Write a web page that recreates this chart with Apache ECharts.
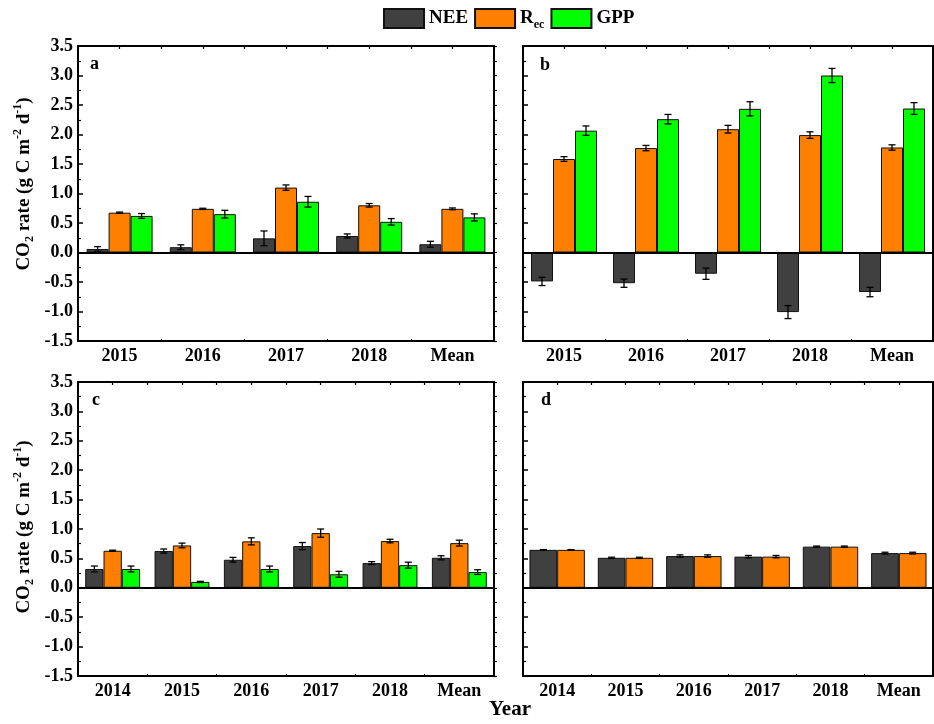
<!DOCTYPE html>
<html>
<head>
<meta charset="utf-8">
<script src="https://cdn.jsdelivr.net/npm/echarts@6/dist/echarts.min.js"></script>
<style>
  html, body { margin: 0; padding: 0; background: #fff; }
  #chart { width: 934px; height: 724px; }
</style>
</head>
<body>
<div id="chart"></div>
<script>
// ---- data -----------------------------------------------------------
const yearsA = ['2015', '2016', '2017', '2018', 'Mean'];
const neeA    = [0.06, 0.09, 0.24, 0.28, 0.14];
const neeErrA = [0.04, 0.04, 0.125, 0.035, 0.05];
const recA    = [0.675, 0.74, 1.10, 0.80, 0.74];
const recErrA = [0.01, 0.01, 0.045, 0.03, 0.015];
const gppA    = [0.62, 0.65, 0.86, 0.52, 0.595];
const gppErrA = [0.04, 0.065, 0.09, 0.055, 0.06];

const yearsB = ['2015', '2016', '2017', '2018', 'Mean'];
const neeB    = [-0.49, -0.52, -0.36, -1.01, -0.67];
const neeErrB = [0.07, 0.07, 0.095, 0.11, 0.08];
const recB    = [1.585, 1.77, 2.09, 1.99, 1.78];
const recErrB = [0.04, 0.045, 0.065, 0.055, 0.045];
const gppB    = [2.065, 2.26, 2.435, 3.0, 2.44];
const gppErrB = [0.08, 0.08, 0.12, 0.12, 0.10];

const yearsC = ['2014', '2015', '2016', '2017', '2018', 'Mean'];
const neeC    = [0.32, 0.625, 0.477, 0.71, 0.42, 0.51];
const neeErrC = [0.05, 0.035, 0.04, 0.06, 0.025, 0.035];
const recC    = [0.63, 0.72, 0.79, 0.93, 0.795, 0.76];
const recErrC = [0.01, 0.04, 0.06, 0.07, 0.03, 0.05];
const gppC    = [0.32, 0.10, 0.32, 0.23, 0.385, 0.267];
const gppErrC = [0.05, 0.01, 0.05, 0.05, 0.05, 0.04];

const yearsD = ['2014', '2015', '2016', '2017', '2018', 'Mean'];
const neeD    = [0.645, 0.51, 0.54, 0.53, 0.70, 0.59];
const neeErrD = [0.005, 0.01, 0.02, 0.02, 0.01, 0.015];
const recD    = [0.645, 0.51, 0.54, 0.53, 0.70, 0.59];
const recErrD = [0.005, 0.01, 0.02, 0.02, 0.01, 0.015];

const yTicks = { min: -1.5, max: 3.5, step: 0.5 };

// ---- style ----------------------------------------------------------
const FONT = '"Liberation Serif", "Times New Roman", serif';
const COLORS = { NEE: '#404040', Rec: '#ff8000', GPP: '#00ff00' };

const panels = [
  { letter: 'a', years: yearsA, grid: { left: 78, top: 46, width: 416, height: 295 }, yLabels: true, barW: 22,
    series: [['NEE', neeA, neeErrA], ['Rec', recA, recErrA], ['GPP', gppA, gppErrA]],
    letterPos: [90, 55], titleY: 184 },
  { letter: 'b', years: yearsB, grid: { left: 523, top: 46, width: 410, height: 295 }, yLabels: false, barW: 22,
    series: [['NEE', neeB, neeErrB], ['Rec', recB, recErrB], ['GPP', gppB, gppErrB]],
    letterPos: [540, 56] },
  { letter: 'c', years: yearsC, grid: { left: 78, top: 382, width: 416, height: 294 }, yLabels: true, barW: 18.3,
    series: [['NEE', neeC, neeErrC], ['Rec', recC, recErrC], ['GPP', gppC, gppErrC]],
    letterPos: [92, 391], titleY: 527 },
  { letter: 'd', years: yearsD, grid: { left: 523, top: 382, width: 410, height: 294 }, yLabels: false, barW: 27.7,
    series: [['NEE', neeD, neeErrD], ['Rec', recD, recErrD]],
    letterPos: [541, 391] }
];

const grids = [], xAxes = [], yAxes = [], seriesList = [], graphics = [];
const black = '#000';

function errorBarRenderer(idx, count, barW) {
  return function (params, api) {
    const c = api.value(0);
    const lo = api.coord([c, api.value(1)]);
    const hi = api.coord([c, api.value(2)]);
    const cx = lo[0] + (idx - (count - 1) / 2) * barW;
    const cap = 3.5;
    const st = { stroke: black, lineWidth: 1.3 };
    return {
      type: 'group',
      children: [
        { type: 'line', shape: { x1: cx, y1: lo[1], x2: cx, y2: hi[1] }, style: st },
        { type: 'line', shape: { x1: cx - cap, y1: lo[1], x2: cx + cap, y2: lo[1] }, style: st },
        { type: 'line', shape: { x1: cx - cap, y1: hi[1], x2: cx + cap, y2: hi[1] }, style: st }
      ]
    };
  };
}

panels.forEach((p, pi) => {
  grids.push(Object.assign({ containLabel: false }, p.grid));
  const n = p.years.length;
  // category axis carrying the bars
  xAxes.push({
    type: 'category', gridIndex: pi, position: 'bottom', data: p.years,
    axisLine: { onZero: false, lineStyle: { color: black, width: 2 } },
    axisTick: { inside: true, alignWithLabel: true, length: 5, lineStyle: { color: black, width: 1.5 } },
    axisLabel: { color: black, fontFamily: FONT, fontWeight: 'bold', fontSize: 18, margin: 6 },
    splitLine: { show: false }
  });
  // top frame with half-category ticks
  xAxes.push({
    type: 'value', gridIndex: pi, position: 'top', min: 0, max: n, interval: 0.5,
    axisLine: { show: true, onZero: false, lineStyle: { color: black, width: 2 } },
    axisTick: { show: true, inside: true, length: 3, lineStyle: { color: black, width: 1.2 } },
    axisLabel: { show: false }, splitLine: { show: false }
  });
  // small ticks at category boundaries along the bottom
  xAxes.push({
    type: 'value', gridIndex: pi, position: 'bottom', min: 0, max: n, interval: 1,
    axisLine: { show: false, onZero: false },
    axisTick: { show: true, inside: true, length: 2, lineStyle: { color: black, width: 1 } },
    axisLabel: { show: false }, splitLine: { show: false }
  });
  yAxes.push({
    type: 'value', gridIndex: pi, position: 'left',
    min: yTicks.min, max: yTicks.max, interval: yTicks.step,
    axisLine: { show: true, onZero: false, lineStyle: { color: black, width: 2 } },
    axisTick: { show: true, inside: true, length: 5, lineStyle: { color: black, width: 1.5 } },
    minorTick: { show: true, splitNumber: 2, length: 3, lineStyle: { color: black, width: 1.2 } },
    axisLabel: { show: p.yLabels, color: black, fontFamily: FONT, fontWeight: 'bold', fontSize: 18, margin: 5,
                 formatter: v => v.toFixed(1) },
    splitLine: { show: false }
  });
  yAxes.push({
    type: 'value', gridIndex: pi, position: 'right',
    min: yTicks.min, max: yTicks.max, interval: yTicks.step / 2,
    axisLine: { show: true, onZero: false, lineStyle: { color: black, width: 2 } },
    axisTick: { show: true, inside: false, length: 3, lineStyle: { color: black, width: 1.2 } },
    axisLabel: { show: false }, splitLine: { show: false }
  });

  const count = p.series.length;
  p.series.forEach(([name, vals, errs], si) => {
    const bar = {
      type: 'bar', name, xAxisIndex: pi * 3, yAxisIndex: pi * 2,
      data: vals, barWidth: p.barW, barGap: '0%',
      itemStyle: { color: COLORS[name], borderColor: '#111', borderWidth: 1 },
      z: 2
    };
    if (si === 0) {
      bar.markLine = {
        silent: true, symbol: 'none', label: { show: false },
        lineStyle: { color: black, width: 2.2, type: 'solid' },
        data: [{ yAxis: 0 }], z: 5
      };
    }
    seriesList.push(bar);
    seriesList.push({
      type: 'custom', name: name + ' error', xAxisIndex: pi * 3, yAxisIndex: pi * 2,
      data: vals.map((v, i) => [i, v - errs[i], v + errs[i]]),
      encode: { x: 0, y: [1, 2] },
      renderItem: errorBarRenderer(si, count, p.barW),
      z: 4, silent: true
    });
  });

  graphics.push({
    type: 'text', left: p.letterPos[0], top: p.letterPos[1],
    style: { text: p.letter, font: `bold 18px ${FONT}`, fill: black }
  });

  if (p.yLabels) {
    graphics.push({
      type: 'text', x: 24, y: p.titleY, rotation: Math.PI / 2,
      style: {
        text: '{n|CO}{sub|2}{n| rate (g C m}{sup|-2}{n| d}{sup|-1}{n|)}',
        align: 'center', verticalAlign: 'middle',
        rich: {
          n:   { fontFamily: FONT, fontWeight: 'bold', fontSize: 19, lineHeight: 24, fill: black, verticalAlign: 'middle' },
          sub: { fontFamily: FONT, fontWeight: 'bold', fontSize: 12, lineHeight: 12, fill: black, verticalAlign: 'bottom' },
          sup: { fontFamily: FONT, fontWeight: 'bold', fontSize: 12, lineHeight: 12, fill: black, verticalAlign: 'top' }
        }
      }
    });
  }
});

graphics.push({
  type: 'text', x: 510, y: 710,
  style: { text: 'Year', font: `bold 21px ${FONT}`, fill: black, align: 'center', verticalAlign: 'middle' }
});

const chart = echarts.init(document.getElementById('chart'), null, { renderer: 'canvas' });
chart.setOption({
  backgroundColor: '#fff',
  animation: false,
  legend: {
    data: ['NEE', 'Rec', 'GPP'], left: 383, top: 8, padding: 0,
    icon: 'rect', itemWidth: 40, itemHeight: 19, itemGap: 6,
    selectedMode: false,
    formatter: name => name === 'Rec' ? '{m|R}{s|ec}' : name,
    textStyle: {
      color: black, fontFamily: FONT, fontWeight: 'bold', fontSize: 19,
      rich: {
        m: { color: black, fontFamily: FONT, fontWeight: 'bold', fontSize: 19, lineHeight: 24, verticalAlign: 'middle' },
        s: { color: black, fontFamily: FONT, fontWeight: 'bold', fontSize: 12, lineHeight: 12, verticalAlign: 'bottom' }
      }
    }
  },
  grid: grids,
  xAxis: xAxes,
  yAxis: yAxes,
  series: seriesList,
  graphic: graphics
});
</script>
</body>
</html>
